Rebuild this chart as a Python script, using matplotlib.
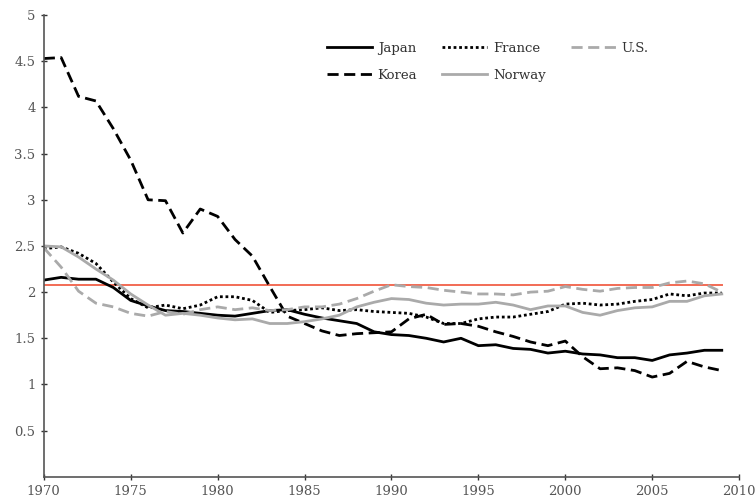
import matplotlib
matplotlib.use("Agg")
import matplotlib.pyplot as plt
import numpy as np

years = np.arange(1970, 2010)

japan = [2.13, 2.16, 2.14, 2.14, 2.05, 1.91, 1.85, 1.80, 1.79, 1.77,
         1.75, 1.74, 1.77, 1.80, 1.81, 1.76, 1.72, 1.69, 1.66, 1.57,
         1.54, 1.53, 1.50, 1.46, 1.50, 1.42, 1.43, 1.39, 1.38, 1.34,
         1.36, 1.33, 1.32, 1.29, 1.29, 1.26, 1.32, 1.34, 1.37, 1.37]
korea = [4.53, 4.54, 4.12, 4.07, 3.77, 3.43, 3.00, 2.99, 2.64, 2.90,
         2.82, 2.57, 2.39, 2.06, 1.74, 1.66, 1.58, 1.53, 1.55, 1.56,
         1.57, 1.71, 1.76, 1.65, 1.66, 1.63, 1.57, 1.52, 1.46, 1.42,
         1.47, 1.30, 1.17, 1.18, 1.15, 1.08, 1.12, 1.25, 1.19, 1.15]
france = [2.47, 2.49, 2.42, 2.31, 2.11, 1.93, 1.83, 1.86, 1.82, 1.86,
          1.95, 1.95, 1.91, 1.78, 1.80, 1.81, 1.83, 1.80, 1.81, 1.79,
          1.78, 1.77, 1.73, 1.66, 1.66, 1.71, 1.73, 1.73, 1.76, 1.79,
          1.87, 1.88, 1.86, 1.87, 1.90, 1.92, 1.98, 1.96, 1.99, 1.99]
us = [2.48, 2.27, 2.01, 1.88, 1.84, 1.77, 1.74, 1.79, 1.76, 1.81,
      1.84, 1.81, 1.83, 1.80, 1.81, 1.84, 1.84, 1.87, 1.93, 2.01,
      2.08, 2.06, 2.05, 2.02, 2.00, 1.98, 1.98, 1.97, 2.00, 2.01,
      2.06, 2.03, 2.01, 2.04, 2.05, 2.05, 2.10, 2.12, 2.09, 2.00]
norway = [2.50, 2.49, 2.38, 2.25, 2.13, 1.98, 1.86, 1.75, 1.77, 1.75,
          1.72, 1.70, 1.71, 1.66, 1.66, 1.68, 1.71, 1.75, 1.84, 1.89,
          1.93, 1.92, 1.88, 1.86, 1.87, 1.87, 1.89, 1.86, 1.81, 1.85,
          1.85, 1.78, 1.75, 1.80, 1.83, 1.84, 1.90, 1.90, 1.96, 1.98]
replacement = 2.08

plt.rcParams["font.family"] = ["DejaVu Serif"]

fig = plt.figure(figsize=(7.55, 5.04), dpi=100)
ax = fig.add_axes([0.058, 0.054, 0.921, 0.916])

gray = "#aaaaaa"
lw = 2.0
ax.plot(years, [replacement] * len(years), color="#f26b55", lw=1.4, zorder=1)
ax.plot(years, japan, color="black", lw=lw, label="Japan")
ax.plot(years, korea, color="black", lw=lw, ls=(0, (4, 2)), label="Korea")
ax.plot(years, france, color="black", lw=lw, ls=(0, (1, 1)), label="France")
ax.plot(years, norway, color=gray, lw=lw, label="Norway")
ax.plot(years, us, color=gray, lw=lw, ls=(0, (4, 2)), label="U.S.")

ax.set_xlim(1970, 2010)
ax.set_ylim(0, 5)
ax.set_xticks(range(1970, 2011, 5))
ax.set_yticks([0.5, 1, 1.5, 2, 2.5, 3, 3.5, 4, 4.5, 5])
ax.set_yticklabels(["0.5", "1", "1.5", "2", "2.5", "3", "3.5", "4", "4.5", "5"])
for s in ["top", "right"]:
    ax.spines[s].set_visible(False)
for s in ["left", "bottom"]:
    ax.spines[s].set_color("#555555")
    ax.spines[s].set_linewidth(1.2)
ax.tick_params(direction="inout", length=5, width=1, colors="#333333",
               labelcolor="#555555", labelsize=9.5)

leg = ax.legend(loc="upper left", bbox_to_anchor=(0.39, 0.968), ncol=3,
                frameon=False, handlelength=3.4, handletextpad=0.45,
                columnspacing=1.9, fontsize=9.5, labelspacing=1.05)
for t in leg.get_texts():
    t.set_color("#333333")

fig.savefig("out.png", dpi=100)
